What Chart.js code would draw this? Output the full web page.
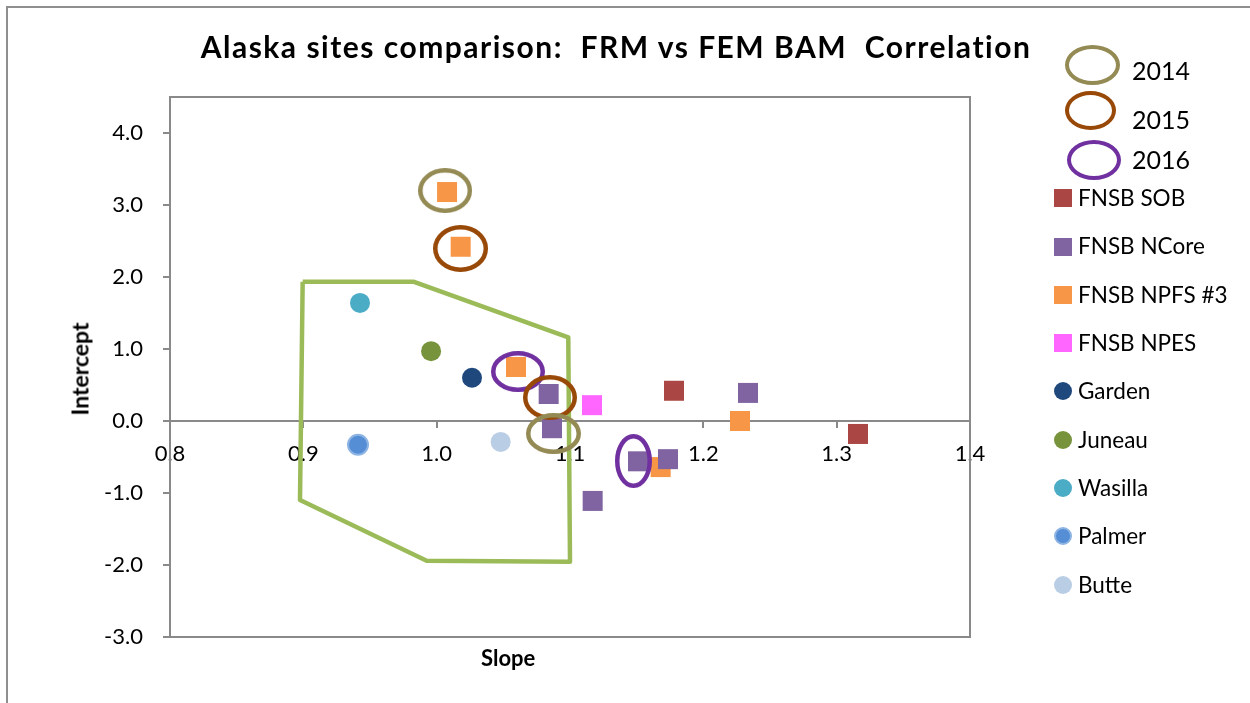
<!DOCTYPE html>
<html><head><meta charset="utf-8">
<script src="https://cdn.jsdelivr.net/npm/chart.js@4"></script>
<style>
html,body{margin:0;padding:0;background:#fff;}
#wrap{position:relative;width:1250px;height:703px;overflow:hidden;font-family:Lato,sans-serif;color:#000;}
#frame{position:absolute;left:6px;top:6px;width:1400px;height:900px;border-left:2px solid #8f8f8f;border-top:2px solid #8f8f8f;}
#c{position:absolute;left:0;top:0;}
.t{position:absolute;white-space:pre;line-height:1;}
.ell{position:absolute;box-sizing:border-box;border-radius:50%;}
.mk{position:absolute;width:18px;height:18px;box-sizing:border-box;}
</style></head>
<body>
<div id="wrap">
  <div id="frame"></div>
  <canvas id="c" width="1250" height="703"></canvas>
  <div class="t" id="title" style="left:616px;top:31px;font-size:30px;font-weight:700;letter-spacing:1.5px;transform:translateX(-50%);">Alaska sites comparison:  FRM vs FEM BAM  Correlation</div>
  <div class="t" style="left:481px;top:647px;font-size:22px;font-weight:700;">Slope</div>
  <div class="t" style="left:80px;top:369px;font-size:23px;font-weight:700;transform:translate(-50%,-50%) rotate(-90deg);">Intercept</div>
  <div id="legend"></div>
</div>
<script>
// ---- data ----
const xTickValues = [0.8, 0.9, 1.0, 1.1, 1.2, 1.3, 1.4];
const yTickValues = [-3, -2, -1, 0, 1, 2, 3, 4];

const sobSlope   = [1.178, 1.316];
const sobInt     = [0.42, -0.18];
const ncoreSlope = [1.084, 1.0865, 1.117, 1.151, 1.1735, 1.2335];
const ncoreInt   = [0.375, -0.10, -1.11, -0.56, -0.53, 0.39];
const npfsSlope  = [1.0078, 1.018, 1.0595, 1.168, 1.2275];
const npfsInt    = [3.18, 2.42, 0.75, -0.64, 0.0];
const npesSlope  = [1.1165];
const npesInt    = [0.22];
const gardenSlope = [1.0265];
const gardenInt   = [0.60];
const juneauSlope = [0.9958];
const juneauInt   = [0.97];
const wasillaSlope = [0.9425];
const wasillaInt   = [1.64];
const palmerSlope = [0.941];
const palmerInt   = [-0.33];
const butteSlope  = [1.048];
const butteInt    = [-0.29];

const y2014Slope = [1.0063, 1.0876];
const y2014Int   = [3.20, -0.174];
const y2015Slope = [1.0179, 1.0850];
const y2015Int   = [2.396, 0.326];
const y2016Slope = [1.0610, 1.1476];
const y2016Int   = [0.687, -0.556];

const polySlope = [0.8995, 0.9825, 1.0987, 1.100, 0.9925, 0.8975, 0.8995];
const polyInt   = [1.935, 1.935, 1.162, -1.954, -1.940, -1.097, 1.935];

// ---- styles ----
const zip = (xs, ys) => xs.map((x, i) => ({x, y: ys[i]}));
function ellipseCanvas(w, h, color, lw) {
  const c = document.createElement('canvas');
  c.width = w; c.height = h;
  const g = c.getContext('2d');
  g.strokeStyle = color; g.lineWidth = lw;
  g.beginPath();
  g.ellipse(w / 2, h / 2, w / 2 - lw / 2, h / 2 - lw / 2, 0, 0, Math.PI * 2);
  g.stroke();
  return c;
}
const yearDefs = [
  {label: '2014', color: '#948A54', xs: y2014Slope, ys: y2014Int, sizes: [[54, 45], [55, 41]]},
  {label: '2015', color: '#984807', xs: y2015Slope, ys: y2015Int, sizes: [[55, 47], [54, 45]]},
  {label: '2016', color: '#7030A0', xs: y2016Slope, ys: y2016Int, sizes: [[54, 41], [37, 54]]}
];
const seriesDefs = [
  {label: 'FNSB SOB',     color: '#AA4643', shape: 'rect',   xs: sobSlope,     ys: sobInt},
  {label: 'FNSB NCore',   color: '#8064A2', shape: 'rect',   xs: ncoreSlope,   ys: ncoreInt},
  {label: 'FNSB NPFS #3', color: '#F79646', shape: 'rect',   xs: npfsSlope,    ys: npfsInt},
  {label: 'FNSB NPES',    color: '#FF66FF', shape: 'rect',   xs: npesSlope,    ys: npesInt},
  {label: 'Garden',       color: '#1F497D', shape: 'circle', xs: gardenSlope,  ys: gardenInt},
  {label: 'Juneau',       color: '#77933C', shape: 'circle', xs: juneauSlope,  ys: juneauInt},
  {label: 'Wasilla',      color: '#4BACC6', shape: 'circle', xs: wasillaSlope, ys: wasillaInt},
  {label: 'Palmer',       color: '#558ED5', shape: 'circle', xs: palmerSlope,  ys: palmerInt, ring: '#8DB4E3'},
  {label: 'Butte',        color: '#B9CDE5', shape: 'circle', xs: butteSlope,   ys: butteInt}
];

const datasets = [];
yearDefs.forEach(d => {
  const styles = d.sizes.map(s => ellipseCanvas(s[0], s[1], d.color, 4.5));
  datasets.push({
    label: d.label, data: zip(d.xs, d.ys), order: 0,
    pointStyle: styles, pointRadius: 20, showLine: false
  });
});
seriesDefs.forEach(d => {
  datasets.push({
    label: d.label, data: zip(d.xs, d.ys), order: 1, showLine: false,
    pointStyle: d.shape, pointRadius: d.shape === 'rect' ? 14.14 : 10,
    backgroundColor: d.color, borderColor: d.ring || d.color,
    pointBorderWidth: d.ring ? 2 : 0
  });
});
datasets.push({
  label: 'region', data: zip(polySlope, polyInt), order: 2, showLine: true,
  pointRadius: 0, borderColor: '#9BBB59', borderWidth: 4.5, fill: false, tension: 0,
  borderJoinStyle: 'round'
});

const AXIS = '#898989';
Chart.defaults.font.family = 'Lato';
const framePlugin = {
  id: 'frame',
  beforeDatasetsDraw(chart) {
    const {ctx, chartArea: a} = chart;
    ctx.save();
    ctx.strokeStyle = AXIS; ctx.lineWidth = 2;
    ctx.strokeRect(a.left, a.top, a.right - a.left, a.bottom - a.top);
    ctx.restore();
  }
};

new Chart(document.getElementById('c'), {
  type: 'scatter',
  data: {datasets},
  plugins: [framePlugin],
  options: {
    responsive: false, animation: false, events: [],
    layout: {padding: {left: 70, top: 97, right: 280, bottom: 66}},
    plugins: {legend: {display: false}, tooltip: {enabled: false}},
    scales: {
      x: {
        type: 'linear', min: 0.8, max: 1.4, position: {y: 0},
        afterBuildTicks: s => { s.ticks = xTickValues.map(v => ({value: v})); },
        ticks: {callback: v => Number(v).toFixed(1), font: {size: 22}, color: '#000', padding: 14, autoSkip: false, maxRotation: 0},
        grid: {drawOnChartArea: false, tickLength: 6, color: AXIS, lineWidth: 2},
        border: {color: AXIS, width: 2}
      },
      y: {
        type: 'linear', min: -3, max: 4.5, position: 'left',
        afterBuildTicks: s => { s.ticks = yTickValues.map(v => ({value: v})); },
        afterFit: s => { s.width = 100; },
        ticks: {callback: v => Number(v).toFixed(1), font: {size: 22}, color: '#000', padding: 20},
        grid: {drawOnChartArea: false, tickLength: 7, color: AXIS, lineWidth: 2},
        border: {color: AXIS, width: 2}
      }
    }
  }
});

// ---- legend (HTML) ----
const leg = document.getElementById('legend');
const yearLegendPos = [[1092, 65, 55, 40, 58], [1090, 110, 51, 39, 107], [1094, 160, 54, 40, 147]];
yearDefs.forEach((d, i) => {
  const p = yearLegendPos[i];
  const e = document.createElement('div');
  e.className = 'ell';
  e.style.cssText = `left:${p[0] - p[2] / 2}px;top:${p[1] - p[3] / 2}px;width:${p[2]}px;height:${p[3]}px;border:4.5px solid ${d.color};`;
  leg.appendChild(e);
  const t = document.createElement('div');
  t.className = 't';
  t.style.cssText = `left:1132px;top:${p[4]}px;font-size:25px;`;
  t.textContent = d.label;
  leg.appendChild(t);
});
const legendCenters = [198, 246.5, 295, 343, 391, 440, 488, 536, 585];
seriesDefs.forEach((d, i) => {
  const cy = legendCenters[i];
  const m = document.createElement('div');
  m.className = 'mk';
  m.style.cssText = `left:1054px;top:${cy - 9}px;background:${d.color};` +
    (d.shape === 'circle' ? 'border-radius:50%;' : '') +
    (d.ring ? `border:2px solid ${d.ring};` : '');
  leg.appendChild(m);
  const t = document.createElement('div');
  t.className = 't';
  t.style.cssText = `left:1078px;top:${cy - 11.5}px;font-size:22.5px;`;
  t.textContent = d.label;
  leg.appendChild(t);
});
</script>
</body></html>
